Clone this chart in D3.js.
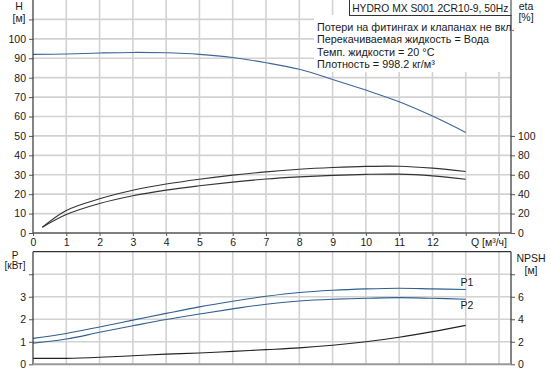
<!DOCTYPE html>
<html><head><meta charset="utf-8">
<script src="https://cdn.jsdelivr.net/npm/d3@7"></script>
<style>
html,body{margin:0;padding:0;background:#fff;}
svg{display:block;font-family:"Liberation Sans",Arial,sans-serif;}
</style></head>
<body>
<script>
// ---- data ----
const title = "HYDRO MX S001 2CR10-9, 50Hz";
const notes = ["Потери на фитингах и клапанах не вкл.",
               "Перекачиваемая жидкость = Вода",
               "Темп. жидкости = 20 °C",
               "Плотность = 998.2 кг/м³"];
const qTicks = [0,1,2,3,4,5,6,7,8,9,10,11,12];
const hTicks = [0,10,20,30,40,50,60,70,80,90,100];
const etaTicks = [0,20,40,60,80,100];
const pTicks = [0,1,2,3];
const npshTicks = [0,2,4,6];

const Q = [0,1,2,3,4,5,6,7,8,9,10,11,12,13];
const H = [92.0,92.2,92.7,93.0,92.8,92.0,90.4,87.7,84.3,79.1,73.6,67.6,60.2,51.8];
const Qeta = [0.28,1,2,3,4,5,6,7,8,9,10,11,12,13];
const eta1 = [5.9,23.2,35.2,44.0,50.4,55.4,59.6,63.0,65.6,67.4,68.6,68.8,66.8,63.4];
const eta2 = [5.9,19.0,30.4,38.4,44.2,48.6,52.4,55.6,57.8,59.4,60.4,60.6,58.8,55.4];
const P1 = [1.15,1.37,1.66,1.96,2.26,2.55,2.80,3.02,3.19,3.29,3.35,3.38,3.35,3.32];
const P2 = [0.94,1.12,1.42,1.71,1.99,2.23,2.46,2.67,2.81,2.89,2.93,2.96,2.93,2.89];
const NPSH = [0.53,0.53,0.62,0.76,0.90,1.00,1.15,1.30,1.46,1.69,2.00,2.40,2.90,3.46];

// ---- layout ----
const W = 551, Hh = 373;
const svg = d3.select("body").append("svg").attr("width", W).attr("height", Hh);
const L = 33, R = 511;
const x = d3.scaleLinear().domain([0, 14.36]).range([L, R]);
const yH = d3.scaleLinear().domain([0, 120]).range([233, 0]);
const yEta = d3.scaleLinear().domain([0, 240]).range([233, 0]);
const yP = d3.scaleLinear().domain([0, 5]).range([364.3, 251.7]);
const yN = d3.scaleLinear().domain([0, 10]).range([364.3, 251.7]);

const gridC = "#d2d2d2", axisC = "#333", txtC = "#1a1a1a";
const fs = 10.5;

// ---- grids ----
const gq = d3.range(1, 15);
svg.append("g").selectAll("line").data(gq).join("line")
  .attr("x1", d => x(d)).attr("x2", d => x(d)).attr("y1", 0).attr("y2", 233)
  .attr("stroke", gridC).attr("stroke-width", 1.6);
svg.append("g").selectAll("line").data(d3.range(10, 120, 10)).join("line")
  .attr("x1", L).attr("x2", R).attr("y1", d => yH(d)).attr("y2", d => yH(d))
  .attr("stroke", gridC).attr("stroke-width", 1.6);
svg.append("g").selectAll("line").data(gq).join("line")
  .attr("x1", d => x(d)).attr("x2", d => x(d)).attr("y1", yP(5)).attr("y2", yP(0))
  .attr("stroke", gridC).attr("stroke-width", 1.6);
svg.append("g").selectAll("line").data([1,2,3,4]).join("line")
  .attr("x1", L).attr("x2", R).attr("y1", d => yP(d)).attr("y2", d => yP(d))
  .attr("stroke", gridC).attr("stroke-width", 1.6);

// ---- curves ----
const lineOf = (xs, ys, yS) => d3.line().curve(d3.curveCatmullRom.alpha(0.5))
  .x((d, i) => x(xs[i])).y(d => yS(d))(ys);

svg.append("path").attr("d", lineOf(Q, H, yH)).attr("fill", "none")
  .attr("stroke", "#3e6696").attr("stroke-width", 1.1);
svg.append("path").attr("d", lineOf(Qeta, eta1, yEta)).attr("fill", "none")
  .attr("stroke", "#333").attr("stroke-width", 1.1);
svg.append("path").attr("d", lineOf(Qeta, eta2, yEta)).attr("fill", "none")
  .attr("stroke", "#333").attr("stroke-width", 1.1);
svg.append("path").attr("d", lineOf(Q, P1, yP)).attr("fill", "none")
  .attr("stroke", "#2f5f91").attr("stroke-width", 1.1);
svg.append("path").attr("d", lineOf(Q, P2, yP)).attr("fill", "none")
  .attr("stroke", "#2f5f91").attr("stroke-width", 1.1);
svg.append("path").attr("d", lineOf(Q, NPSH, yN)).attr("fill", "none")
  .attr("stroke", "#222").attr("stroke-width", 1.1);

// ---- notes box ----
svg.append("rect").attr("x", 314).attr("y", 15).attr("width", R - 314).attr("height", 57).attr("fill", "#fff");
svg.append("rect").attr("x", 349.5).attr("y", -1).attr("width", R - 349.5).attr("height", 16.5)
  .attr("fill", "#fff").attr("stroke", axisC).attr("stroke-width", 1);
svg.append("text").attr("x", (349.5 + R) / 2).attr("y", 11.5).attr("text-anchor", "middle")
  .attr("font-size", 10.3).attr("fill", txtC).text(title);
svg.append("g").selectAll("text").data(notes).join("text")
  .attr("x", 317).attr("y", (d, i) => 30.5 + i * 12.5)
  .attr("font-size", 10.8).attr("fill", txtC).text(d => d);

// ---- axes top panel ----
const axL = svg.append("g").attr("transform", `translate(${L},0)`)
  .call(d3.axisLeft(yH).tickValues(d3.range(0, 120, 10)).tickSize(4).tickFormat(d => hTicks.includes(d) ? d : ""));
const axR = svg.append("g").attr("transform", `translate(${R},0)`)
  .call(d3.axisRight(yEta).tickValues(etaTicks).tickSize(4));
const axB = svg.append("g").attr("transform", "translate(0,233)")
  .call(d3.axisBottom(x).tickValues(d3.range(0, 15)).tickSize(3).tickFormat(d => qTicks.includes(d) ? d : ""));
// ---- axes bottom panel ----
const axPL = svg.append("g").attr("transform", `translate(${L},0)`)
  .call(d3.axisLeft(yP).tickValues([0,1,2,3,4]).tickSize(4).tickFormat(d => pTicks.includes(d) ? d : ""));
const axPR = svg.append("g").attr("transform", `translate(${R},0)`)
  .call(d3.axisRight(yN).tickValues([0,2,4,6,8]).tickSize(4).tickFormat(d => npshTicks.includes(d) ? d : ""));

[axL, axR, axB, axPL, axPR].forEach(a => {
  a.select(".domain").remove();
  a.selectAll("line").attr("stroke", "#555");
  a.selectAll("text").attr("font-size", fs).attr("fill", txtC).attr("font-family", "Liberation Sans, Arial, sans-serif");
});
axB.selectAll("text").attr("dy", null).attr("y", 13);

// axis lines
const ax = (x1, y1, x2, y2, c, w) => svg.append("line").attr("x1", x1).attr("y1", y1).attr("x2", x2).attr("y2", y2)
  .attr("stroke", c).attr("stroke-width", w);
ax(L, 0, L, 233, axisC, 1.2);
ax(R, 15, R, 233, axisC, 1.2);
ax(L, 233, R, 233, "#555", 1.6);
ax(L, yP(5), R, yP(5), axisC, 1.2);
ax(L, yP(5), L, yP(0), axisC, 1.2);
ax(R, yP(5), R, yP(0), axisC, 1.2);
ax(L, yP(0), R, yP(0), "#999", 2);

// ---- axis titles ----
const t = (s, xx, yy, anchor, f) => svg.append("text").attr("x", xx).attr("y", yy)
  .attr("text-anchor", anchor || "middle").attr("font-size", f || fs).attr("fill", txtC).text(s);
t("H", 19, 10);
t("[м]", 19, 22);
t("eta", 526, 10);
t("[%]", 526, 21);
t("Q [м³/ч]", 489, 246);
t("P", 15, 258.5, "middle", 10);
t("[кВт]", 15, 269, "middle", 10);
t("NPSH", 531, 262);
t("[м]", 531, 274);
t("P1", 467, 286);
t("P2", 467, 309);
</script>
</body></html>
